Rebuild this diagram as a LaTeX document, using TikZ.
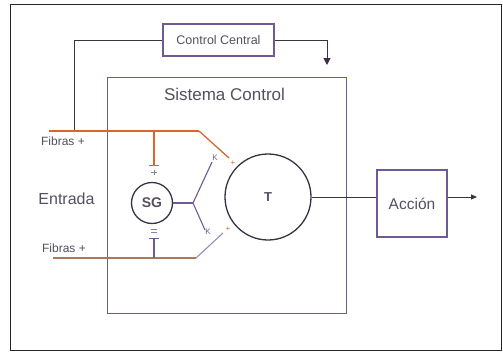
\documentclass[tikz,border=0pt]{standalone}
\usepackage{fontspec}
\setmainfont{Liberation Sans}
\usetikzlibrary{arrows.meta}
\definecolor{purp}{HTML}{6E5A94}
\definecolor{orng}{HTML}{D8662E}
\definecolor{brwn}{HTML}{A9785E}
\definecolor{dark}{HTML}{3A3242}
\definecolor{txt}{HTML}{555060}
\tikzset{
  pbox/.style={draw=purp, line width=1.3pt, inner sep=0pt},
  lbl/.style={text=txt, inner sep=0pt},
  conn/.style={draw=dark, line width=1pt},
  tick/.style={line width=0.9pt},
}
\begin{document}
\begin{tikzpicture}[x=1pt,y=-1pt]
\useasboundingbox (0,0) rectangle (503,351);
\fill[white] (0,0) rectangle (503,351);
\draw[black!85, line width=1pt] (10,4) rectangle (501,350);

% boxes
\node[pbox, minimum width=111pt, minimum height=32pt, font=\fontsize{12.5}{13}\selectfont, text=txt] (cc) at (218.5,40) {Control Central};
\node[pbox, minimum width=239pt, minimum height=236pt, anchor=north west] (sc) at (107,77) {};
\node[lbl, font=\fontsize{17}{19}\selectfont] (sclbl) at (224.5,94) {Sistema Control};
\node[pbox, minimum width=70pt, minimum height=67pt, font=\fontsize{15.5}{17}\selectfont, text=txt] (ac) at (412,203.5) {Acción};
\node[circle, draw=dark, line width=1.3pt, minimum size=41pt, inner sep=0pt, font=\bfseries\fontsize{14}{16}\selectfont, text=txt] (sg) at (152,203) {SG};
\node[circle, draw=dark, line width=1.3pt, minimum size=86pt, inner sep=0pt, font=\bfseries\fontsize{13}{15}\selectfont, text=txt] (t) at (268,197) {T};

% labels
\node[lbl, font=\fontsize{12}{13}\selectfont] (f1) at (63,141) {Fibras +};
\node[lbl, font=\fontsize{12}{13}\selectfont] (f2) at (64,248) {Fibras +};
\node[lbl, font=\fontsize{16}{18}\selectfont] (en) at (66.5,199) {Entrada};

% coordinates
\coordinate (a0) at (49,131);
\coordinate (jn) at (74,131);
\coordinate (b1) at (199,131);
\coordinate (e1) at (229,158);
\coordinate (sv1) at (154,131);
\coordinate (sb1) at (154,165);
\coordinate (a2) at (53,258);
\coordinate (b2) at (196,258);
\coordinate (e2) at (223,233);
\coordinate (sv2) at (154,258);
\coordinate (sb2) at (154,238);
\coordinate (yj) at (193,203);
\coordinate (k1) at (212,162);
\coordinate (k2) at (205,230);
\coordinate (dn) at (327,65);
\coordinate (out) at (477,197);

% feedback loop via Control Central
\draw[conn] (jn) |- (cc.west);
\draw[conn, -{Triangle[length=7pt,width=7pt]}] (cc.east) -| (dn);

% upper fibres (orange)
\draw[orng, line width=2.2pt] (a0) -- (b1);
\draw[orng, line width=1.3pt] (b1) -- (e1);
\draw[orng, line width=1.1pt] (sv1) -- (sb1);
\draw[orng, tick] ([xshift=-5pt]sb1) -- ([xshift=5pt]sb1);
\draw[txt!70, line width=0.6pt] (151,172) -- (157,172) (154,169.5) -- (154,174.5);
\node[text=orng, inner sep=0pt, font=\fontsize{8}{8}\selectfont] (p1) at (233,163) {+};

% lower fibres
\draw[brwn, line width=1.1pt] (a2) -- (b2);
\draw[purp!70, line width=1.1pt] (b2) -- (e2);
\draw[purp, line width=1.1pt] (sv2) -- (sb2);
\draw[purp, tick] ([xshift=-5pt]sb2) -- ([xshift=5pt]sb2);
\draw[txt!70, line width=0.6pt] (151,229.5) -- (157,229.5) (151,232) -- (157,232);
\node[text=orng, inner sep=0pt, font=\fontsize{8}{8}\selectfont] (p2) at (228,229) {+};

% SG outputs (purple Y)
\draw[purp, line width=1.1pt] (sg.east) -- (yj);
\draw[purp, line width=1.1pt] (yj) -- (k1);
\draw[purp, line width=1.1pt] (yj) -- (k2);
\node[text=purp, inner sep=0pt, font=\fontsize{8}{8}\selectfont] (kk1) at (215,158) {K};
\node[text=purp, inner sep=0pt, font=\fontsize{8}{8}\selectfont] (kk2) at (208,232) {K};

% output path
\draw[conn] (t.east) -- (t.east -| ac.west);
\draw[conn, -{Triangle[length=6pt,width=5pt]}] (t.east -| ac.east) -- (out);
\end{tikzpicture}
\end{document}
